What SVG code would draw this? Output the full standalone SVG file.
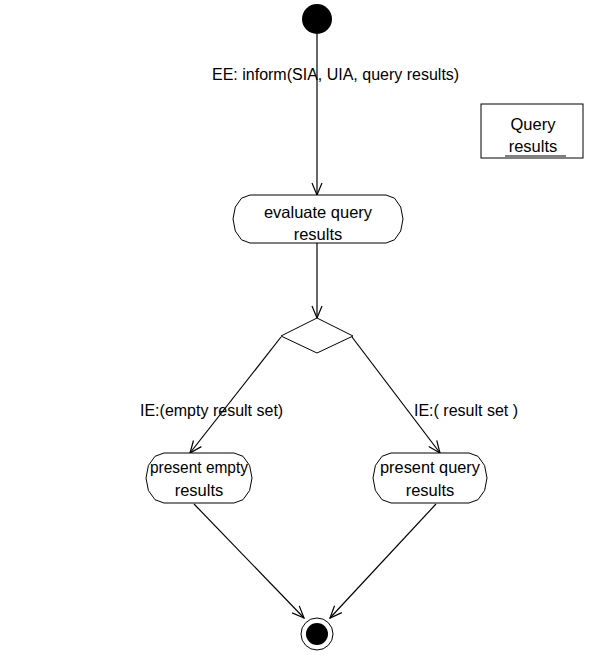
<svg xmlns="http://www.w3.org/2000/svg" width="590" height="655" viewBox="0 0 590 655">
  <defs>
    <style>
      text { font-family: "Liberation Sans", Arial, sans-serif; fill: #000; }
      .lbl { font-size: 16px; }
      .nt { font-size: 16.5px; text-anchor: middle; }
      .node { fill: #fff; stroke: #000; stroke-width: 1; }
      .edge { fill: none; stroke: #000; stroke-width: 1.2; }
    </style>
    <marker id="open" viewBox="0 0 14 12" refX="13" refY="6" markerWidth="14" markerHeight="12" markerUnits="userSpaceOnUse" orient="auto">
      <path d="M1,1 L13,6 L1,11" fill="none" stroke="#000" stroke-width="1.2"/>
    </marker>
  </defs>
  <rect width="590" height="655" fill="#fff"/>

  <!-- transitions -->
  <g id="connectors">
    <line class="edge" x1="317" y1="34" x2="317" y2="195" marker-end="url(#open)"/>
    <line class="edge" x1="317" y1="243" x2="317" y2="318" marker-end="url(#open)"/>
    <line class="edge" x1="281" y1="337" x2="190" y2="453" marker-end="url(#open)"/>
    <line class="edge" x1="352" y1="337" x2="440" y2="453" marker-end="url(#open)"/>
    <line class="edge" x1="194" y1="504" x2="304" y2="618" marker-end="url(#open)"/>
    <line class="edge" x1="436" y1="504" x2="330" y2="618" marker-end="url(#open)"/>
  </g>

  <!-- transition labels -->
  <g id="labels">
    <text class="lbl" x="212" y="80">EE: inform(SIA, UIA, query results)</text>
    <text class="lbl" x="140" y="416">IE:(empty result set)</text>
    <text class="lbl" x="414" y="416">IE:( result set )</text>
  </g>

  <g id="initial">
    <circle cx="317" cy="19" r="15" fill="#000"/>
  </g>

  <!-- action states: flat top/bottom with faceted rounded ends -->
  <g id="evaluate">
    <polygon class="node" points="250,195 241.5,198.2 235.3,207 233,219 235.3,231 241.5,239.8 250,243 386,243 394.5,239.8 400.7,231 403,219 400.7,207 394.5,198.2 386,195"/>
    <text class="nt" x="318" y="218">evaluate query</text>
    <text class="nt" x="318" y="240">results</text>
  </g>

  <g id="decision">
    <polygon class="node" points="317,318 353,336 317,353 281,336"/>
  </g>

  <g id="present-empty">
    <polygon class="node" points="164,453 155,456.3 148.4,465.5 146,478 148.4,490.5 155,499.7 164,503 234,503 243,499.7 249.6,490.5 252,478 249.6,465.5 243,456.3 234,453"/>
    <text class="nt" x="199" y="473" textLength="98" lengthAdjust="spacingAndGlyphs">present empty</text>
    <text class="nt" x="199" y="496">results</text>
  </g>

  <g id="present-query">
    <polygon class="node" points="391,453 382,456.3 375.4,465.5 373,478 375.4,490.5 382,499.7 391,503 469,503 478,499.7 484.6,490.5 487,478 484.6,465.5 478,456.3 469,453"/>
    <text class="nt" x="430" y="473" textLength="100" lengthAdjust="spacingAndGlyphs">present query</text>
    <text class="nt" x="430" y="496">results</text>
  </g>

  <g id="final">
    <circle cx="317" cy="634" r="16" fill="#fff" stroke="#000" stroke-width="1"/>
    <circle cx="317" cy="634" r="11" fill="#000"/>
  </g>

  <g id="query-results">
    <rect class="node" x="481" y="104" width="102" height="54"/>
    <text class="nt" x="533" y="130">Query</text>
    <text class="nt" x="533" y="152">results</text>
    <line x1="505" y1="156" x2="566" y2="156" stroke="#000" stroke-width="1"/>
  </g>
</svg>
